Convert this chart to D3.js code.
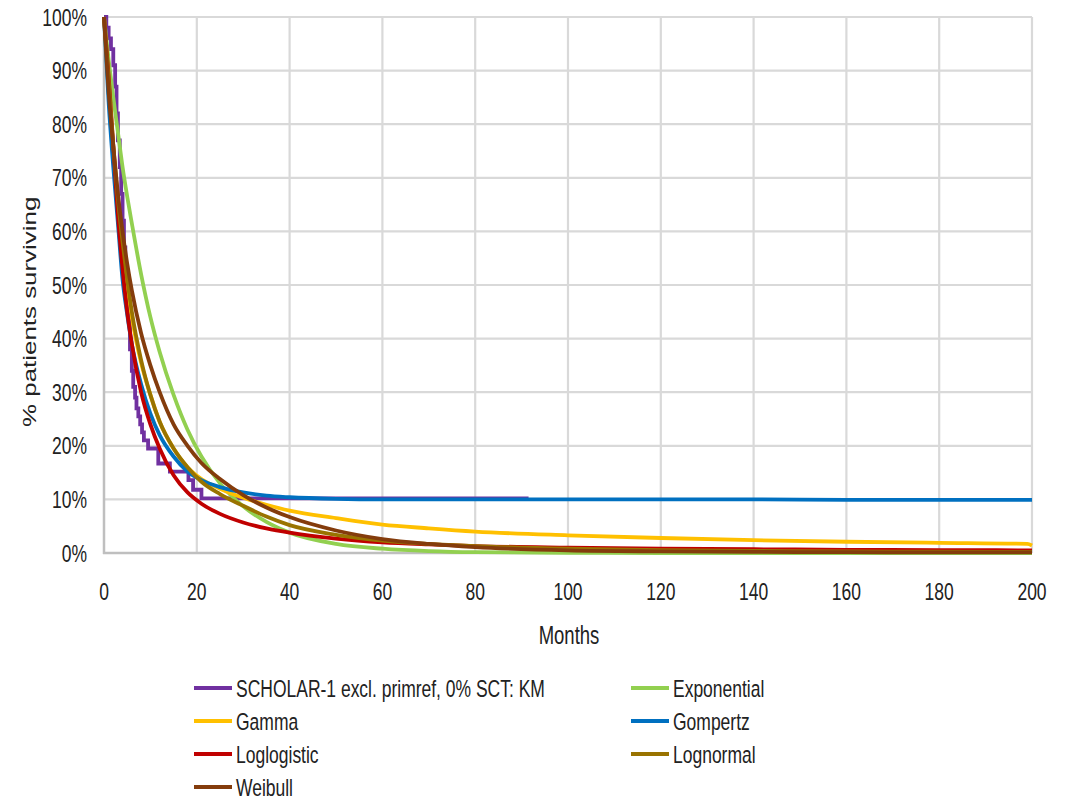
<!DOCTYPE html>
<html>
<head>
<meta charset="utf-8">
<script src="https://cdn.jsdelivr.net/npm/d3@7/dist/d3.min.js"></script>
<style>
  body { margin: 0; background: #fff; }
  text { font-family: "Liberation Sans", Arial, sans-serif; fill: #222; }
</style>
</head>
<body>
<div id="chart"></div>
<script>
// Kaplan-Meier steps (months, % surviving)
const kmMonths = [0, 0.5, 1, 1.5, 2, 2.4, 2.7, 3, 3.4, 3.7, 4, 4.3, 4.6, 4.9, 5.2, 5.6, 6, 6.3, 6.7, 7, 7.4, 7.8, 8.2, 8.6, 9.5, 11.7, 14.2, 18.2, 19.2, 21, 91.5];
const kmSurv   = [100, 98, 96, 94, 91, 87, 82, 77, 72, 67, 62, 57, 52, 48, 44, 38, 34, 31, 29, 27, 25.5, 24, 22.5, 21, 19.5, 16.7, 15.2, 13.6, 11.8, 10.2, 10.2];

// fitted parametric curves, read at these months
const fitMonths   = [0, 1, 2, 3, 4, 5, 6, 8, 10, 12, 15, 18, 21, 25, 30, 35, 40, 50, 60, 70, 80, 100, 120, 140, 160, 180, 199, 200];
const exponential = [100, 92, 85, 78.5, 72, 66.5, 61.5, 52, 44, 37.5, 29.5, 23, 18, 13, 8.7, 5.8, 3.8, 1.7, 0.8, 0.35, 0.15, 0.05, 0, 0, 0, 0, 0, 0];
const gamma       = [100, 86, 75, 65, 57, 50, 44, 35.5, 29.5, 24.5, 19.5, 16, 13.8, 12, 10.3, 9, 7.9, 6.5, 5.3, 4.6, 4, 3.3, 2.8, 2.4, 2.1, 1.9, 1.7, 1.4];
const gompertz    = [100, 84, 72, 61.5, 51, 44.5, 39, 31.5, 26, 22, 18, 15.2, 13.6, 12.3, 11.3, 10.7, 10.4, 10.1, 10, 10, 10, 10, 10, 10, 9.9, 9.9, 9.9, 9.9];
const loglogistic = [100, 89, 76, 63, 53, 45, 39, 30, 24, 19.5, 14.5, 11.3, 9.2, 7.3, 5.7, 4.6, 3.8, 2.7, 2, 1.6, 1.3, 1, 0.8, 0.7, 0.6, 0.55, 0.5, 0.5];
const lognormal   = [100, 88, 76, 66, 58, 51, 45, 36, 29.5, 24.5, 19.5, 16, 13.3, 11, 8.8, 6.8, 5.2, 3.4, 2.3, 1.7, 1.3, 0.8, 0.55, 0.4, 0.3, 0.25, 0.2, 0.2];
const weibull     = [100, 86, 76, 67, 60, 54, 49, 41, 35, 30, 24, 20, 16.8, 13.8, 10.8, 8.5, 6.7, 4.2, 2.6, 1.7, 1.1, 0.5, 0.3, 0.2, 0.15, 0.1, 0.1, 0.1];

const seriesNames  = ['SCHOLAR-1 excl. primref, 0% SCT: KM', 'Exponential', 'Gamma', 'Gompertz', 'Loglogistic', 'Lognormal', 'Weibull'];
const seriesColors = ['#7030A0', '#92D050', '#FFC000', '#0070C0', '#C00000', '#997300', '#843C0C'];

const xTicks = [0, 20, 40, 60, 80, 100, 120, 140, 160, 180, 200];
const yTicks = [0, 10, 20, 30, 40, 50, 60, 70, 80, 90, 100];

const width = 1069, height = 800;
const stretch = 1.4; // the picture is stretched vertically, text too

const svg = d3.select('#chart').append('svg')
    .attr('width', width)
    .attr('height', height);

const x = d3.scaleLinear([0, 200], [104, 1032]);
const y = d3.scaleLinear([0, 100], [553, 17]);

// Gridlines
svg.append('g')
    .selectAll('line')
    .data(xTicks.slice(1))
    .join('line')
    .attr('x1', d => x(d)).attr('x2', d => x(d))
    .attr('y1', y(100)).attr('y2', y(0))
    .attr('stroke', '#d9d9d9')
    .attr('stroke-width', 2.2);

svg.append('g')
    .selectAll('line')
    .data(yTicks.slice(1))
    .join('line')
    .attr('x1', x(0)).attr('x2', x(200))
    .attr('y1', d => y(d)).attr('y2', d => y(d))
    .attr('stroke', '#d9d9d9')
    .attr('stroke-width', 2.2);

// Axis lines
svg.append('line')
    .attr('x1', x(0)).attr('x2', x(0))
    .attr('y1', y(100)).attr('y2', y(0) + 1)
    .attr('stroke', '#bfbfbf').attr('stroke-width', 2.5);
svg.append('line')
    .attr('x1', x(0) - 1).attr('x2', x(200))
    .attr('y1', y(0)).attr('y2', y(0))
    .attr('stroke', '#bfbfbf').attr('stroke-width', 2.5);

// stretched text helper
function label(tx, ty, str, size, anchor) {
    return svg.append('text')
        .attr('transform', `translate(${tx},${ty}) scale(1,${stretch})`)
        .attr('text-anchor', anchor)
        .attr('dy', '0.35em')
        .style('font-size', size + 'px')
        .text(str);
}

yTicks.forEach(d => label(87, y(d), d + '%', 17.5, 'end'));
xTicks.forEach(d => label(x(d), 591, d, 17.5, 'middle'));
label(569, 635, 'Months', 18.5, 'middle');

svg.append('text')
    .attr('transform', `translate(30,${y(45)}) rotate(-90) scale(${stretch},1)`)
    .attr('text-anchor', 'middle')
    .attr('dy', '0.35em')
    .style('font-size', '18.5px')
    .text('% patients surviving');

// Curves
const fitLine = d3.line()
    .x(d => x(d[0]))
    .y(d => y(d[1]))
    .curve(d3.curveMonotoneX);

const kmLine = d3.line()
    .x(d => x(d[0]))
    .y(d => y(d[1]))
    .curve(d3.curveStepAfter);

const plot = svg.append('g').attr('fill', 'none').attr('stroke-width', 3.8);

plot.append('path')
    .attr('d', kmLine(d3.zip(kmMonths, kmSurv)))
    .attr('stroke', seriesColors[0]);

[exponential, gamma, gompertz, loglogistic, lognormal, weibull].forEach((vals, i) => {
    plot.append('path')
        .attr('d', fitLine(d3.zip(fitMonths, vals)))
        .attr('stroke', seriesColors[i + 1])
        .attr('stroke-linejoin', 'round');
});

// Legend, two columns
const legend = svg.append('g');
seriesNames.forEach((name, i) => {
    const col = i % 2, row = Math.floor(i / 2);
    const lx = col === 0 ? 194 : 631;
    const ly = 688 + row * 33;
    legend.append('line')
        .attr('x1', lx).attr('x2', lx + 38)
        .attr('y1', ly).attr('y2', ly)
        .attr('stroke', seriesColors[i])
        .attr('stroke-width', 4);
    label(lx + 42, ly, name, 17.5, 'start');
});
</script>
</body>
</html>
